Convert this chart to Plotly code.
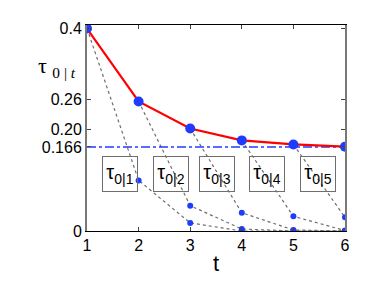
import plotly.graph_objects as go

t = [1, 2, 3, 4, 5, 6]
tau = [0.4, 0.256, 0.2025, 0.179, 0.171, 0.1667]
limit_value = 0.166
curve_starts = [1, 2, 3, 4, 5]
curves = [
    [0.4, 0.100, 0.016, 0.0, 0.0, 0.0],
    [0.256, 0.050, 0.004, 0.0, 0.0],
    [0.2025, 0.036, 0.002, 0.0],
    [0.179, 0.029, 0.001],
    [0.171, 0.027],
]
box_labels = ["τ<sub>0|1</sub>", "τ<sub>0|2</sub>", "τ<sub>0|3</sub>", "τ<sub>0|4</sub>", "τ<sub>0|5</sub>"]
box_x = [1.63, 2.63, 3.51, 4.48, 5.47]
box_y = 0.112
ytick_vals = [0, 0.166, 0.20, 0.26, 0.4]
ytick_text = ["0", "0.166", "0.20", "0.26", "0.4"]

BLUE = "rgb(30,60,255)"
fig = go.Figure()

for s, c in zip(curve_starts, curves):
    xs = list(range(s, s + len(c)))
    fig.add_trace(go.Scatter(x=xs, y=c, mode="lines",
                             line=dict(color="rgb(110,110,110)", width=1.2, dash="dot"),
                             showlegend=False, hoverinfo="skip"))
    fig.add_trace(go.Scatter(x=xs[1:], y=c[1:], mode="markers",
                             marker=dict(color=BLUE, size=6),
                             showlegend=False, hoverinfo="skip"))

fig.add_trace(go.Scatter(x=[t[0], t[-1]], y=[limit_value, limit_value], mode="lines",
                         line=dict(color=BLUE, width=1.6, dash="dashdot"),
                         showlegend=False))
fig.add_trace(go.Scatter(x=t, y=tau, mode="lines+markers",
                         line=dict(color="red", width=2.2),
                         marker=dict(color=BLUE, size=10),
                         showlegend=False))

for lab, bx in zip(box_labels, box_x):
    fig.add_annotation(x=bx, y=box_y, xref="x", yref="y", text=lab, showarrow=False,
                       width=32, height=32, bordercolor="rgb(110,110,110)", borderwidth=1,
                       bgcolor="rgba(0,0,0,0)",
                       font=dict(family="Liberation Sans, Arial", size=20, color="black"))

fig.add_annotation(x=-0.035, y=0.325, xref="paper", yref="y", xanchor="right",
                   text="τ <sub>0 | </sub><i><sub>t</sub></i>", showarrow=False,
                   font=dict(family="Liberation Serif, serif", size=22, color="black"))

fig.update_layout(
    width=374, height=276,
    margin=dict(l=79, r=37, t=12, b=52),
    paper_bgcolor="white", plot_bgcolor="white",
    font=dict(family="Liberation Sans, Arial", size=16, color="black"),
    xaxis=dict(range=[1, 6], tickvals=t, ticks="inside", ticklen=4, mirror="ticks",
               showline=True, linecolor="black", linewidth=1, showgrid=False, zeroline=False,
               title=dict(text="t", font=dict(size=22), standoff=2)),
    yaxis=dict(range=[0, 0.407], tickvals=ytick_vals, ticktext=ytick_text, ticks="inside",
               ticklen=4, mirror="ticks", showline=True, linecolor="rgb(120,120,120)",
               linewidth=2, showgrid=False, zeroline=False),
)

fig.write_html("out.html")
